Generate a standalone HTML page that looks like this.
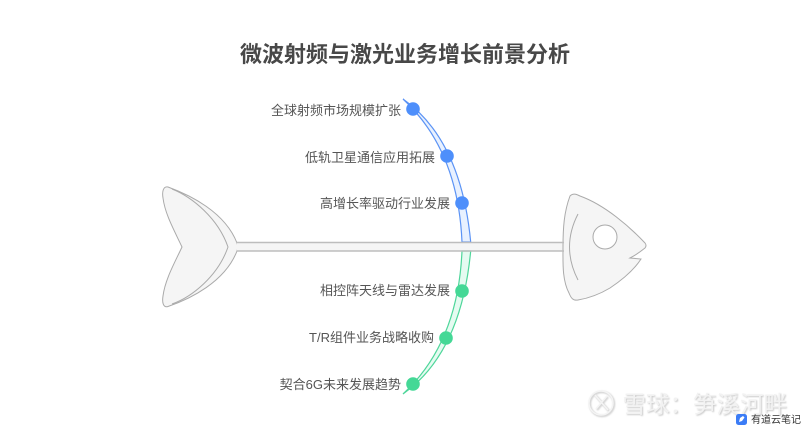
<!DOCTYPE html>
<html><head><meta charset="utf-8"><style>
html,body{margin:0;padding:0;background:#fff;width:810px;height:430px;overflow:hidden}
svg{display:block}
text{font-family:"Liberation Sans","Noto Sans CJK SC",sans-serif}
</style></head><body>
<svg width="810" height="430" viewBox="0 0 810 430" xmlns="http://www.w3.org/2000/svg">
<defs><filter id="b" x="-10%" y="-30%" width="120%" height="160%"><feGaussianBlur stdDeviation="0.7"/></filter></defs>
<rect width="810" height="430" fill="#fff"/>
<text x="405" y="62" text-anchor="middle" font-size="22" font-weight="700" fill="#484848">微波射频与激光业务增长前景分析</text>
<path d="M168,187C190,195 225,212 237,243Q238.500,247 237,251C225,282 190,299 168,306.500C163,308 162,302 163,296C165,280 174,264 182,247C174,230 165,214 163,198C162,192 163,186 168,187Z" fill="#f5f5f5" stroke="#aaa" stroke-width="1"/>
<path d="M172,189C192,197 218,218 228,247C218,276 192,297 172,304" fill="none" stroke="#aaa" stroke-width="1"/>
<rect x="237" y="242.500" width="327" height="8.500" fill="#f5f5f5"/>
<path d="M570,196C573,193 576,194 580,196C605,205 630,227 645,243Q647,245.500 645,248C640,252 636,255 630,258L641,259C634,270 622,280 610,288C600,294 590,298 578,300C573,301 571,298 569,293C562,280 563,262 563,247C563,228 564,212 570,196Z" fill="#f5f5f5" stroke="#aaa" stroke-width="1"/>
<circle cx="605" cy="237" r="12" fill="#fff" stroke="#aaa" stroke-width="1"/>
<path d="M578,214Q561,247 578,280" fill="none" stroke="#aaa" stroke-width="1"/>
<path d="M403,99Q461,140 470.700,242L462,242Q458,150 403,99Z" fill="#e8f1ff" stroke="#5b93f5" stroke-width="1.200"/>
<path d="M403,394Q461,353 470.700,251L462,251Q458,343 403,394Z" fill="#e5fbf1" stroke="#4ed69a" stroke-width="1.200"/>
<line x1="237" y1="242.500" x2="564" y2="242.500" stroke="#bdbdbd" stroke-width="1.500"/>
<line x1="237" y1="251" x2="564" y2="251" stroke="#bdbdbd" stroke-width="1.500"/>
<circle cx="413" cy="109" r="6.800" fill="#4e8ffb"/>
<circle cx="447" cy="156" r="6.800" fill="#4e8ffb"/>
<circle cx="462" cy="203" r="6.800" fill="#4e8ffb"/>
<circle cx="462" cy="291" r="6.800" fill="#44d896"/>
<circle cx="446" cy="338" r="6.800" fill="#44d896"/>
<circle cx="413" cy="384" r="6.800" fill="#44d896"/>
<g font-size="13" fill="#555" text-anchor="end">
<text x="401" y="115">全球射频市场规模扩张</text>
<text x="435" y="162">低轨卫星通信应用拓展</text>
<text x="450" y="208">高增长率驱动行业发展</text>
<text x="450" y="295">相控阵天线与雷达发展</text>
<text x="434" y="342">T/R组件业务战略收购</text>
<text x="401" y="389">契合6G未来发展趋势</text>
</g>
<g fill="none" stroke="#d4d4d4" stroke-width="2.500" filter="url(#b)"><circle cx="602" cy="404" r="12"/><path d="M596,396L609,411M608,397L597,410"/></g>
<g fill="none" stroke="#f4f4f4" stroke-width="1.500"><circle cx="601" cy="403" r="12"/><path d="M595,395L608,410M607,396L596,409"/></g>
<text x="623.500" y="413.500" font-size="23.500" fill="#c8c8c8" filter="url(#b)">雪球：笋溪河畔</text>
<text x="622.500" y="412.500" font-size="23.500" fill="#f2f2f2">雪球：笋溪河畔</text>
<rect x="736" y="414" width="11" height="11" rx="2.500" fill="#3b7cf6"/>
<path d="M739,422L740,418L743,416L744.500,417.500L742,421Z" fill="#fff"/>
<text x="751" y="423" font-size="10" fill="#333">有道云笔记</text>
</svg>
</body></html>
